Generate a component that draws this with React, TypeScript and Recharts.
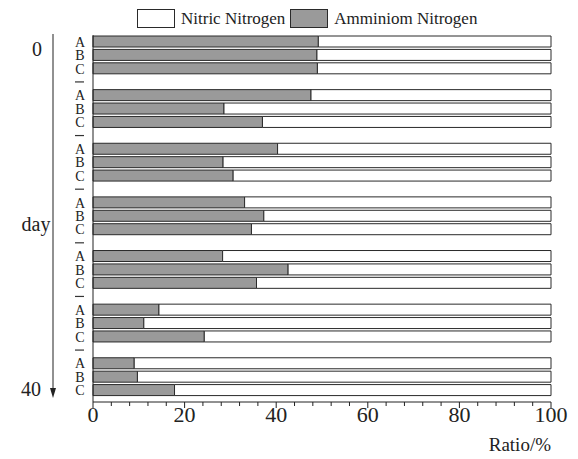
import React from "react";
import { BarChart, Bar, XAxis, YAxis, Legend, Customized } from "recharts";

// ratio (%) per treatment, one value per sampling time (day 0 -> day 40)
const treatments = ["A", "B", "C"];
const ammA = [49.2, 47.6, 40.3, 33.1, 28.3, 14.4, 9.0];
const ammB = [48.9, 28.6, 28.4, 37.3, 42.6, 11.1, 9.7];
const ammC = [49.0, 37.0, 30.6, 34.6, 35.7, 24.3, 17.8];
const nitA = [50.8, 52.4, 59.7, 66.9, 71.7, 85.6, 91.0];
const nitB = [51.1, 71.4, 71.6, 62.7, 57.4, 88.9, 90.3];
const nitC = [51.0, 63.0, 69.4, 65.4, 64.3, 75.7, 82.2];
const xTicks = [0, 4, 8, 12, 16, 20, 24, 28, 32, 36, 40, 44, 48, 52, 56, 60, 64, 68, 72, 76, 80, 84, 88, 92, 96, 100];
const majorTicks = [0, 20, 40, 60, 80, 100];

const FONT = '"Liberation Serif", "Times New Roman", serif';
const GRAY = "#9a9a9a";
const EDGE = "#2a2a2a";

type Row = { id: string; label: string; amm?: number; nit?: number };

const ammBy = [ammA, ammB, ammC];
const nitBy = [nitA, nitB, nitC];
const rows: Row[] = [];
ammA.forEach((_, g) => {
  treatments.forEach((t, k) => {
    rows.push({ id: `${g}${t}`, label: t, amm: ammBy[k][g], nit: nitBy[k][g] });
  });
  if (g < ammA.length - 1) rows.push({ id: `${g}-`, label: "—" });
});
const labelOf: Record<string, string> = {};
rows.forEach((r) => (labelOf[r.id] = r.label));

function YTick({ x, y, payload }: any) {
  const lab = labelOf[payload.value];
  if (lab === "—") {
    return <line x1={x - 18} x2={x - 9} y1={y} y2={y} stroke="#333" strokeWidth={1.2} />;
  }
  return (
    <text x={x - 13} y={y} dy={5} textAnchor="middle" fontFamily={FONT} fontSize={14} fill="#222">
      {lab}
    </text>
  );
}

function XTick({ x, y, payload }: any) {
  const major = majorTicks.includes(payload.value);
  return (
    <g>
      <line x1={x} x2={x} y1={y} y2={y + (major ? 6 : 4)} stroke="#222" />
      {major && (
        <text x={x} y={y + 20} textAnchor="middle" fontFamily={FONT} fontSize={22} fill="#222">
          {payload.value}
        </text>
      )}
    </g>
  );
}

function LegendBox() {
  const item = (fill: string, name: string) => (
    <div style={{ display: "flex", alignItems: "center", marginRight: 5 }}>
      <div style={{ width: 36, height: 17, background: fill, border: `1px solid ${EDGE}`, marginRight: 6 }} />
      <span style={{ fontFamily: FONT, fontSize: 17, color: "#222", lineHeight: "19px" }}>{name}</span>
    </div>
  );
  return (
    <div style={{ height: 30, boxSizing: "border-box", display: "flex", alignItems: "flex-start", paddingLeft: 137, paddingTop: 9 }}>
      {item("#ffffff", "Nitric Nitrogen")}
      {item(GRAY, "Amminiom Nitrogen")}
    </div>
  );
}

function DayArrow() {
  return (
    <g fontFamily={FONT} fontSize={20} fill="#222">
      <text x={37} y={56} textAnchor="middle">0</text>
      <text x={36} y={231} textAnchor="middle">day</text>
      <text x={31} y={396} textAnchor="middle">40</text>
      <line x1={53} x2={53} y1={34} y2={390} stroke="#222" />
      <polygon points="50,388 56,388 53,398" fill="#222" />
    </g>
  );
}

export default function App() {
  return (
    <div style={{ position: "absolute", left: 0, top: 0, width: 578, height: 459, background: "#fff" }}>
      <BarChart
        width={578}
        height={459}
        data={rows}
        layout="vertical"
        barSize={11}
        margin={{ top: 5, right: 27, bottom: 0, left: 0 }}
      >
        <Legend verticalAlign="top" content={() => <LegendBox />} wrapperStyle={{ top: 0, left: 0, width: 578 }} />
        <XAxis
          type="number"
          domain={[0, 100]}
          ticks={xTicks}
          interval={0}
          height={57}
          tickSize={0}
          tickMargin={0}
          tick={<XTick />}
          axisLine={{ stroke: "#222" }}
          label={({ viewBox }: any) => (
            <text
              x={viewBox.x + viewBox.width}
              y={viewBox.y + 49}
              textAnchor="end"
              fontFamily={FONT}
              fontSize={19}
              fill="#222"
            >
              Ratio/%
            </text>
          )}
        />
        <YAxis
          type="category"
          dataKey="id"
          width={93}
          interval={0}
          tickSize={0}
          tickMargin={0}
          tick={<YTick />}
          axisLine={{ stroke: "#222" }}
          padding={{ top: 0, bottom: 5 }}
        />
        <Bar dataKey="amm" name="Amminiom Nitrogen" stackId="r" fill={GRAY} stroke={EDGE} strokeWidth={1} isAnimationActive={false} />
        <Bar dataKey="nit" name="Nitric Nitrogen" stackId="r" fill="#ffffff" stroke={EDGE} strokeWidth={1} isAnimationActive={false} />
        <Customized component={DayArrow} />
      </BarChart>
    </div>
  );
}
